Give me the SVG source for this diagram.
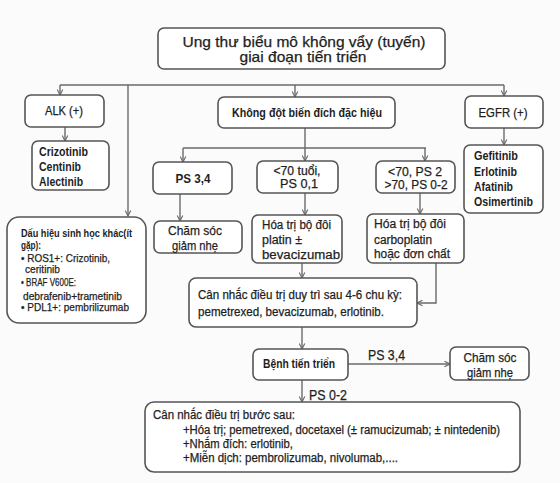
<svg xmlns="http://www.w3.org/2000/svg" width="560" height="483" viewBox="0 0 560 483">
<style>
.box{fill:#ffffff;stroke:#555;stroke-width:1.6}
.ln{fill:none;stroke:#6a6a6a;stroke-width:1.4}
.t{font-family:"Liberation Sans",Arial,sans-serif;fill:#1e1e1e;stroke:#1e1e1e;stroke-width:0.25}
.b{font-weight:bold;stroke-width:0}
.c{text-anchor:middle}
</style>
<defs>
<marker id="arr" viewBox="0 0 10 10" refX="9" refY="5" markerWidth="7" markerHeight="7" orient="auto" markerUnits="userSpaceOnUse">
<path d="M1,1 L9,5 L1,9" fill="none" stroke="#6a6a6a" stroke-width="1.6"/>
</marker>
</defs>
<rect width="560" height="483" fill="#fbfbfb"/>

<g id="connectors">
<path class="ln" d="M60,85 H504"/>
<path class="ln" d="M60,85 V95" marker-end="url(#arr)"/>
<path class="ln" d="M295,85 V97" marker-end="url(#arr)"/>
<path class="ln" d="M504,85 V96" marker-end="url(#arr)"/>
<path class="ln" d="M128,85 V216" marker-end="url(#arr)"/>
<path class="ln" d="M65,127 V141" marker-end="url(#arr)"/>
<path class="ln" d="M504,128 V145" marker-end="url(#arr)"/>
<path class="ln" d="M305,128 V148"/>
<path class="ln" d="M183,148 H426"/>
<path class="ln" d="M183,148 V162" marker-end="url(#arr)"/>
<path class="ln" d="M305,148 V161" marker-end="url(#arr)"/>
<path class="ln" d="M425,148 V161" marker-end="url(#arr)"/>
<path class="ln" d="M180,194 V221" marker-end="url(#arr)"/>
<path class="ln" d="M305,193 V215" marker-end="url(#arr)"/>
<path class="ln" d="M420,193 V214" marker-end="url(#arr)"/>
<path class="ln" d="M302,263 V278" marker-end="url(#arr)"/>
<path class="ln" d="M436,263 V303 H417" marker-end="url(#arr)"/>
<path class="ln" d="M302,327 V349" marker-end="url(#arr)"/>
<path class="ln" d="M348,364 H450" marker-end="url(#arr)"/>
<path class="ln" d="M302,380 V402" marker-end="url(#arr)"/>
<text class="t" x="368" y="360" font-size="14" textLength="37" lengthAdjust="spacingAndGlyphs">PS 3,4</text>
<text class="t" x="309" y="400" font-size="14" textLength="38" lengthAdjust="spacingAndGlyphs">PS 0-2</text>
</g>

<g id="title">
<rect class="box" x="158" y="28" width="287" height="41" rx="6"/>
<text class="t c" x="304" y="47" font-size="14.5" textLength="243" lengthAdjust="spacingAndGlyphs">Ung thư biểu mô không vẩy (tuyến)</text>
<text class="t c" x="303" y="61.5" font-size="14.5" textLength="127" lengthAdjust="spacingAndGlyphs">giai đoạn tiến triển</text>
</g>

<g id="alk">
<rect class="box" x="25" y="95" width="79" height="32" rx="6"/>
<text class="t c" x="64" y="115" font-size="12" textLength="38" lengthAdjust="spacingAndGlyphs">ALK (+)</text>
</g>

<g id="alk-drugs">
<rect class="box" x="32" y="141" width="77" height="49" rx="6"/>
<text class="t b" x="39" y="156" font-size="12" textLength="49" lengthAdjust="spacingAndGlyphs">Crizotinib</text>
<text class="t b" x="39" y="171" font-size="12" textLength="42" lengthAdjust="spacingAndGlyphs">Centinib</text>
<text class="t b" x="39" y="186" font-size="12" textLength="44" lengthAdjust="spacingAndGlyphs">Alectinib</text>
</g>

<g id="no-mutation">
<rect class="box" x="218" y="97" width="177" height="31" rx="6"/>
<text class="t b c" x="307" y="117" font-size="12" textLength="150" lengthAdjust="spacingAndGlyphs">Không đột biến đích đặc hiệu</text>
</g>

<g id="egfr">
<rect class="box" x="465" y="96" width="78" height="32" rx="6"/>
<text class="t c" x="503" y="117" font-size="12" textLength="49" lengthAdjust="spacingAndGlyphs">EGFR (+)</text>
</g>

<g id="egfr-drugs">
<rect class="box" x="464" y="145" width="79" height="68" rx="6"/>
<text class="t b" x="474" y="160" font-size="12" textLength="44" lengthAdjust="spacingAndGlyphs">Gefitinib</text>
<text class="t b" x="474" y="176" font-size="12" textLength="43" lengthAdjust="spacingAndGlyphs">Erlotinib</text>
<text class="t b" x="474" y="191" font-size="12" textLength="39" lengthAdjust="spacingAndGlyphs">Afatinib</text>
<text class="t b" x="474" y="206" font-size="12" textLength="59" lengthAdjust="spacingAndGlyphs">Osimertinib</text>
</g>

<g id="other-markers">
<rect class="box" x="7" y="217" width="139" height="106" rx="12"/>
<text class="t b" x="21" y="237" font-size="11" textLength="111" lengthAdjust="spacingAndGlyphs">Dấu hiệu sinh học khác(ít</text>
<text class="t b" x="21" y="249" font-size="11" textLength="20" lengthAdjust="spacingAndGlyphs">gặp):</text>
<text class="t" x="21" y="262" font-size="11" textLength="89" lengthAdjust="spacingAndGlyphs">• ROS1+: Crizotinib,</text>
<text class="t" x="25" y="273" font-size="11" textLength="35" lengthAdjust="spacingAndGlyphs">ceritinib</text>
<text class="t" x="21" y="286" font-size="11" textLength="55" lengthAdjust="spacingAndGlyphs">• BRAF V600E:</text>
<text class="t" x="23" y="300" font-size="11" textLength="99" lengthAdjust="spacingAndGlyphs">debrafenib+trametinib</text>
<text class="t" x="21" y="311" font-size="11" textLength="108" lengthAdjust="spacingAndGlyphs">• PDL1+: pembrilizumab</text>
</g>

<g id="ps34">
<rect class="box" x="153" y="162" width="79" height="32" rx="6"/>
<text class="t b c" x="193" y="183" font-size="13" textLength="35" lengthAdjust="spacingAndGlyphs">PS 3,4</text>
</g>

<g id="palliative1">
<rect class="box" x="154" y="221" width="88" height="32" rx="6"/>
<text class="t c" x="195" y="235" font-size="13.5" textLength="54" lengthAdjust="spacingAndGlyphs">Chăm sóc</text>
<text class="t c" x="195" y="250" font-size="13.5" textLength="46" lengthAdjust="spacingAndGlyphs">giảm nhẹ</text>
</g>

<g id="under70">
<rect class="box" x="257" y="161" width="81" height="32" rx="6"/>
<text class="t c" x="297" y="175" font-size="12.5" textLength="47" lengthAdjust="spacingAndGlyphs">&lt;70 tuổi,</text>
<text class="t c" x="299" y="188" font-size="12.5" textLength="38" lengthAdjust="spacingAndGlyphs">PS 0,1</text>
</g>

<g id="ps2">
<rect class="box" x="376" y="161" width="79" height="32" rx="6"/>
<text class="t c" x="415" y="176" font-size="12.5" textLength="54" lengthAdjust="spacingAndGlyphs">&lt;70, PS 2</text>
<text class="t c" x="416" y="189" font-size="12.5" textLength="63" lengthAdjust="spacingAndGlyphs">&gt;70, PS 0-2</text>
</g>

<g id="platin">
<rect class="box" x="252" y="215" width="90" height="48" rx="6"/>
<text class="t" x="262" y="229" font-size="12.5" textLength="69" lengthAdjust="spacingAndGlyphs">Hóa trị bộ đôi</text>
<text class="t" x="262" y="244" font-size="12.5" textLength="40" lengthAdjust="spacingAndGlyphs">platin ±</text>
<text class="t" x="262" y="259" font-size="12.5" textLength="78" lengthAdjust="spacingAndGlyphs">bevacizumab</text>
</g>

<g id="carboplatin">
<rect class="box" x="367" y="214" width="97" height="49" rx="6"/>
<text class="t" x="374" y="228" font-size="12.5" textLength="72" lengthAdjust="spacingAndGlyphs">Hóa trị bộ đôi</text>
<text class="t" x="374" y="244" font-size="12.5" textLength="58" lengthAdjust="spacingAndGlyphs">carboplatin</text>
<text class="t" x="374" y="258" font-size="12.5" textLength="76" lengthAdjust="spacingAndGlyphs">hoặc đơn chất</text>
</g>

<g id="maintenance">
<rect class="box" x="189" y="278" width="228" height="49" rx="7"/>
<text class="t" x="198" y="299" font-size="12" textLength="204" lengthAdjust="spacingAndGlyphs">Cân nhắc điều trị duy trì sau 4-6 chu kỳ:</text>
<text class="t" x="198" y="316" font-size="12" textLength="186" lengthAdjust="spacingAndGlyphs">pemetrexed, bevacizumab, erlotinib.</text>
</g>

<g id="progression">
<rect class="box" x="253" y="349" width="95" height="31" rx="6"/>
<text class="t b c" x="299" y="368" font-size="12" textLength="72" lengthAdjust="spacingAndGlyphs">Bệnh tiến triển</text>
</g>

<g id="palliative2">
<rect class="box" x="450" y="347" width="79" height="33" rx="6"/>
<text class="t c" x="490" y="362" font-size="13" textLength="53" lengthAdjust="spacingAndGlyphs">Chăm sóc</text>
<text class="t c" x="490" y="377" font-size="13" textLength="46" lengthAdjust="spacingAndGlyphs">giảm nhẹ</text>
</g>

<g id="next-line">
<rect class="box" x="145" y="402" width="375" height="70" rx="9"/>
<text class="t" x="153" y="419" font-size="12" textLength="142" lengthAdjust="spacingAndGlyphs">Cân nhắc điều trị bước sau:</text>
<text class="t" x="183" y="434" font-size="12" textLength="317" lengthAdjust="spacingAndGlyphs">+Hóa trị; pemetrexed, docetaxel (± ramucizumab; ± nintedenib)</text>
<text class="t" x="183" y="448" font-size="12" textLength="110" lengthAdjust="spacingAndGlyphs">+Nhắm đích: erlotinib,</text>
<text class="t" x="183" y="462" font-size="12" textLength="215" lengthAdjust="spacingAndGlyphs">+Miễn dịch: pembrolizumab, nivolumab,....</text>
</g>
</svg>
